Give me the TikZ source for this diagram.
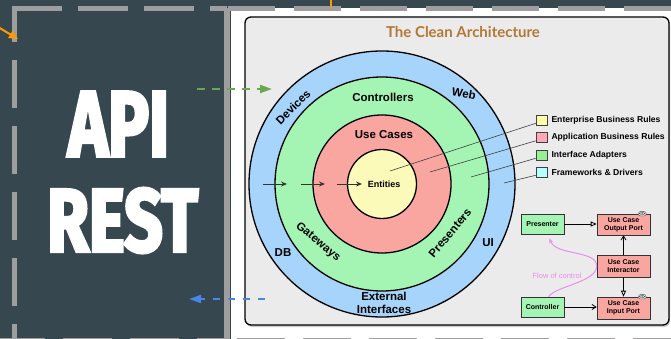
\documentclass[tikz,border=0pt]{standalone}
\usepackage{fontspec}
\setmainfont{Liberation Sans}
\newfontfamily\titlefont{Lato}
\newfontfamily\apifont{Fira Sans}[BoldFeatures={FakeBold=4}]
\usetikzlibrary{arrows.meta,calc,positioning,shadows}
\definecolor{PanelClr}{RGB}{55,71,79}
\definecolor{DashClr}{RGB}{158,158,158}
\definecolor{FrameClr}{RGB}{235,235,235}
\definecolor{TitleClr}{RGB}{178,120,52}
\definecolor{OuterClr}{RGB}{166,212,250}
\definecolor{AdapterClr}{RGB}{164,245,180}
\definecolor{CaseClr}{RGB}{250,166,160}
\definecolor{EntityClr}{RGB}{252,250,184}
\definecolor{KeyYellowClr}{RGB}{255,255,170}
\definecolor{KeyRedClr}{RGB}{255,170,182}
\definecolor{KeyGreenClr}{RGB}{150,240,150}
\definecolor{KeyCyanClr}{RGB}{180,255,255}
\definecolor{FlowClr}{RGB}{236,140,236}
\definecolor{GreenArrClr}{RGB}{106,168,79}
\definecolor{BlueArrClr}{RGB}{74,134,232}
\definecolor{OrangeClr}{RGB}{255,153,0}

\begin{document}
\begin{tikzpicture}[x=1pt,y=-1pt,
  ring label/.style={font=\fontsize{11.5}{12.5}\selectfont\bfseries},
  keybox/.style={draw=black!75,line width=.6pt,minimum width=11pt,minimum height=10pt,inner sep=0pt},
  keytext/.style={anchor=west,inner sep=0pt,font=\fontsize{8.6}{9}\selectfont\bfseries},
  port/.style={draw=black!80,line width=.6pt,fill=CaseClr,minimum width=53pt,minimum height=21pt,
    inner sep=0pt,align=center,font=\fontsize{7}{7.8}\selectfont\bfseries},
  adapter/.style={port,fill=AdapterClr,minimum width=43pt,minimum height=20pt},
  ifacetag/.style={draw=black!70,fill=white,rounded corners=2pt,inner sep=.6pt,font=\fontsize{4.5}{4.5}\selectfont\bfseries},
  dashline/.style={DashClr,line width=5pt},
  hint/.style={line width=2pt,dash pattern=on 7.5pt off 7.5pt,-{Triangle[length=12pt,width=8pt]}}]

\useasboundingbox (0,0) rectangle (671,339);
\fill[PanelClr] (0,0) rectangle (671,339);
\fill[white] (231,8.5) rectangle (671,339);

% dashed frames
\draw[dashline,dash pattern=on 50pt off 16pt] (12,8.5) -- (227,8.5);
\draw[dashline,dash pattern=on 47pt off 19pt] (227.5,8.5) -- (675,8.5);
\draw[dashline,dash pattern=on 48pt off 18pt,dash phase=15pt] (14.5,9) -- (14.5,345);
\draw[dashline,dash pattern=on 49pt off 18pt] (-4,340) -- (224,340);
\draw[dashline,dash pattern=on 48pt off 18pt] (237,340) -- (680,340);
\draw[DashClr,line width=6pt] (227,8.5) -- (227,345);

\node[text=white,inner sep=0pt] (api) at (118.5,124) {\resizebox{101pt}{64pt}{\apifont\bfseries API}};
\node[text=white,inner sep=0pt] (rest) at (122.5,220.5) {\resizebox{151pt}{63pt}{\apifont\bfseries REST}};

\draw[fill=FrameClr,rounded corners=6pt,line width=1.3pt,
  drop shadow={opacity=.4,shadow xshift=1pt,shadow yshift=-2pt}] (245,17) rectangle (669,325);
\node[text=TitleClr,font=\titlefont\bfseries\fontsize{15}{16}\selectfont] (title) at (463,32) {The Clean Architecture};

% rings
\coordinate (c) at (382,184);
\foreach \r/\clr in {133/OuterClr,107/AdapterClr,69/CaseClr,34.5/EntityClr}
  \draw[line width=1.3pt,fill=\clr] (c) circle[radius=\r pt];

\node[ring label,rotate=45] (dev) at (293,107) {Devices};
\node[ring label,rotate=-10] (web) at (464,94) {Web};
\node[ring label] (ctl) at (383,97) {Controllers};
\node[ring label] (uc) at (384,135) {Use Cases};
\node[font=\fontsize{9}{9}\selectfont\bfseries] (ent) at (384,184) {Entities};
\node[ring label,rotate=-39] (gw) at (318,242) {Gateways};
\node[ring label,rotate=50] (prs) at (450,233) {Presenters};
\node[ring label] (db) at (283,253) {DB};
\node[ring label] (ui) at (488,243) {UI};
\node[ring label,align=center] (ext) at (384,303) {External\\Interfaces};

\foreach \a/\b in {263/287,301/325,337/362}
  \draw[black!80,line width=1pt,-{Stealth[length=6pt,width=5pt]}] (\a,184) -- (\b,184);

% legend
\node[keybox,fill=KeyYellowClr] (lgE) at (541.5,120) {};
\node[keybox,fill=KeyRedClr] (lgA) at (541.5,137.5) {};
\node[keybox,fill=KeyGreenClr] (lgI) at (541.5,155) {};
\node[keybox,fill=KeyCyanClr] (lgF) at (541.5,172) {};
\node[keytext,right=4pt of lgE] {Enterprise Business Rules};
\node[keytext,right=4pt of lgA] {Application Business Rules};
\node[keytext,right=4pt of lgI] {Interface Adapters};
\node[keytext,right=4pt of lgF] {Frameworks \& Drivers};
\draw[black!75,line width=.6pt] (390,171) -- ($(lgE.south west)+(0,-2)$);
\draw[black!75,line width=.6pt] (430,172) -- ($(lgA.south west)+(0,-2)$);
\draw[black!75,line width=.6pt] (471,177) -- ($(lgI.south west)+(0,-2)$);
\draw[black!75,line width=.6pt] (504,183) -- ($(lgF.south west)+(0,-2)$);

% flow of control
\node[adapter] (pres) at (542.5,224) {Presenter};
\node[port] (outp) at (623.5,224.5) {Use Case\\Output Port};
\node[port,minimum height=22pt] (inter) at (623.5,266) {Use Case\\Interactor};
\node[adapter] (ctrl) at (542.5,307) {Controller};
\node[port,minimum height=22pt] (inp) at (623.5,308) {Use Case\\Input Port};
\node[ifacetag] (outpI) at ($(outp.north east)+(-8,0)$) {<I>};
\node[ifacetag] (inpI) at ($(inp.north east)+(-8,0)$) {<I>};

\draw[line width=.8pt,-{Triangle[open,length=6pt,width=5pt]}] (pres.east) -- (pres.east -| outp.west);
\draw[line width=.8pt,-{Straight Barb[length=4pt,width=5pt]}] (inter) -- (outp);
\draw[line width=.8pt,-{Triangle[open,length=6pt,width=5pt]}] (inter) -- (inp);
\draw[line width=.8pt,-{Straight Barb[length=4pt,width=5pt]}] (ctrl.east) -- (ctrl.east -| inp.west);

\draw[FlowClr,line width=1pt,-{Stealth[length=5pt,width=4pt]}] ($(ctrl.north)+(6,0)$)
  .. controls (556,286) and (597,282) .. (inter.west)
  .. controls (597,250) and (556,256) .. ($(pres.south)+(7,4)$);
\node[text=FlowClr,font=\fontsize{7.5}{8}\selectfont] (flow) at (557,276) {Flow of control};

% incoming and outgoing calls
\coordinate (gA) at (197,89);
\coordinate (gB) at (272,89);
\coordinate (bA) at (265,299);
\coordinate (bB) at (189,299);
\coordinate (oA) at (-2,27);
\coordinate (oB) at (18,39);
\draw[hint,GreenArrClr] (gA) -- (gB);
\draw[hint,BlueArrClr] (bA) -- (bB);
\draw[OrangeClr,line width=2pt,-{Triangle[length=9pt,width=8pt]}] (oA) -- (oB);
\draw[OrangeClr,line width=2pt] (331,-1) -- (331,7);
\end{tikzpicture}
\end{document}
